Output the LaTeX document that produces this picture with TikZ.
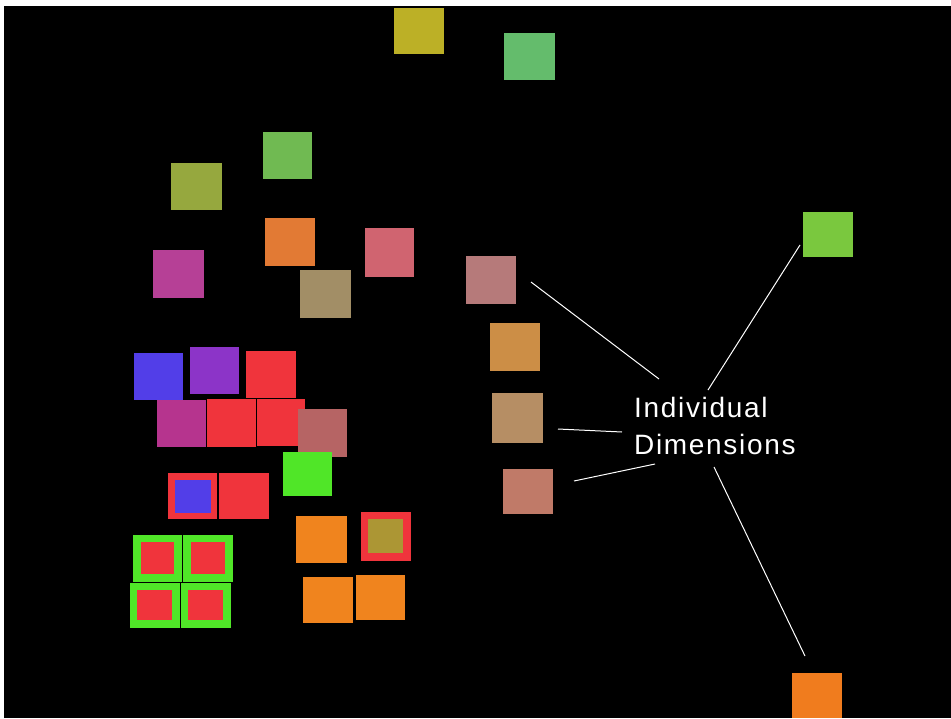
\documentclass[tikz,border=0pt]{standalone}
\usepackage{fontspec}
\setmainfont{Liberation Sans}
\newfontfamily\labelfont[LetterSpace=6]{Liberation Sans}
\begin{document}
\begin{tikzpicture}[x=1pt,y=-1pt]
\definecolor{cYellow}{RGB}{188,176,38}
\definecolor{cTeal}{RGB}{100,188,108}
\definecolor{cGreenA}{RGB}{112,186,82}
\definecolor{cOlive}{RGB}{150,168,62}
\definecolor{cOrangeA}{RGB}{226,122,52}
\definecolor{cPink}{RGB}{208,100,112}
\definecolor{cMagenta}{RGB}{182,64,150}
\definecolor{cGrayGreen}{RGB}{162,142,102}
\definecolor{cMauve}{RGB}{182,122,122}
\definecolor{cOchre}{RGB}{204,142,70}
\definecolor{cTan}{RGB}{182,142,100}
\definecolor{cSalmon}{RGB}{192,122,104}
\definecolor{cLime}{RGB}{122,200,62}
\definecolor{cOrange}{RGB}{240,124,30}
\definecolor{cBlue}{RGB}{82,62,232}
\definecolor{cPurple}{RGB}{140,52,200}
\definecolor{cRed}{RGB}{240,52,60}
\definecolor{cMagentaB}{RGB}{182,52,142}
\definecolor{cRose}{RGB}{182,100,100}
\definecolor{cGreen}{RGB}{80,230,40}
\definecolor{cOrangeB}{RGB}{240,132,30}
\definecolor{cInnerOlive}{RGB}{172,150,52}
\tikzset{conn/.style={draw=white,line width=1pt}}
\useasboundingbox (0,0) rectangle (951,718);
\fill[white] (0,0) rectangle (951,718);
\fill[black] (4,6) rectangle (951,718);
% top squares
\fill[cYellow] (394,8) rectangle (444,54);
\fill[cTeal] (504,33) rectangle (555,80);
\fill[cGreenA] (263,132) rectangle (312,179);
\fill[cOlive] (171,163) rectangle (222,210);
\fill[cOrangeA] (265,218) rectangle (315,266);
\fill[cPink] (365,228) rectangle (414,277);
\fill[cMagenta] (153,250) rectangle (204,298);
\fill[cGrayGreen] (300,270) rectangle (351,318);
% column of four
\fill[cMauve] (466,256) rectangle (516,304);
\fill[cOchre] (490,323) rectangle (540,371);
\fill[cTan] (492,393) rectangle (543,443);
\fill[cSalmon] (503,469) rectangle (553,514);
% far right
\fill[cLime] (803,212) rectangle (853,257);
\fill[cOrange] (792,673) rectangle (842,718);
% cluster
\fill[cBlue] (134,353) rectangle (183,400);
\fill[cPurple] (190,347) rectangle (239,394);
\fill[cRed] (246,351) rectangle (296,398);
\fill[cMagentaB] (157,400) rectangle (206,447);
\fill[cRed] (207,399) rectangle (256,447);
\fill[cRed] (257,399) rectangle (305,446);
\fill[cRose] (298,409) rectangle (347,457);
\fill[cGreen] (283,452) rectangle (332,496);
\fill[cRed] (168,473) rectangle (217,519);
\fill[cBlue] (175,480) rectangle (211,513);
\fill[cRed] (219,473) rectangle (269,519);
\fill[cOrangeB] (296,516) rectangle (347,563);
\fill[cRed] (361,512) rectangle (411,561);
\fill[cInnerOlive] (368,519) rectangle (403,553);
% green-bordered red squares
\fill[cGreen] (133,535) rectangle (182,582);
\fill[cRed] (141,542) rectangle (174,574);
\fill[cGreen] (183,535) rectangle (233,582);
\fill[cRed] (191,542) rectangle (225,574);
\fill[cGreen] (130,583) rectangle (180,628);
\fill[cRed] (137,590) rectangle (172,620);
\fill[cGreen] (181,583) rectangle (231,628);
\fill[cRed] (188,590) rectangle (223,620);
% bottom orange pair
\fill[cOrangeB] (303,577) rectangle (353,623);
\fill[cOrangeB] (356,575) rectangle (405,620);
% label
\node[anchor=base west,inner sep=0pt,text=white,font=\labelfont\fontsize{28}{37}\selectfont] (l1) at (634,417) {Individual};
\node[anchor=base west,inner sep=0pt,text=white,font=\labelfont\fontsize{28}{37}\selectfont] (l2) at (634,454) {Dimensions};
% connectors
\coordinate (a1) at (531,282); \coordinate (b1) at (659,379);
\coordinate (a2) at (708,390); \coordinate (b2) at (800,245);
\coordinate (a3) at (558,429); \coordinate (b3) at (622,432);
\coordinate (a4) at (574,481); \coordinate (b4) at (655,464);
\coordinate (a5) at (714,467); \coordinate (b5) at (805,656);
\draw[conn] (a1) -- (b1);
\draw[conn] (a2) -- (b2);
\draw[conn] (a3) -- (b3);
\draw[conn] (a4) -- (b4);
\draw[conn] (a5) -- (b5);
\end{tikzpicture}
\end{document}
